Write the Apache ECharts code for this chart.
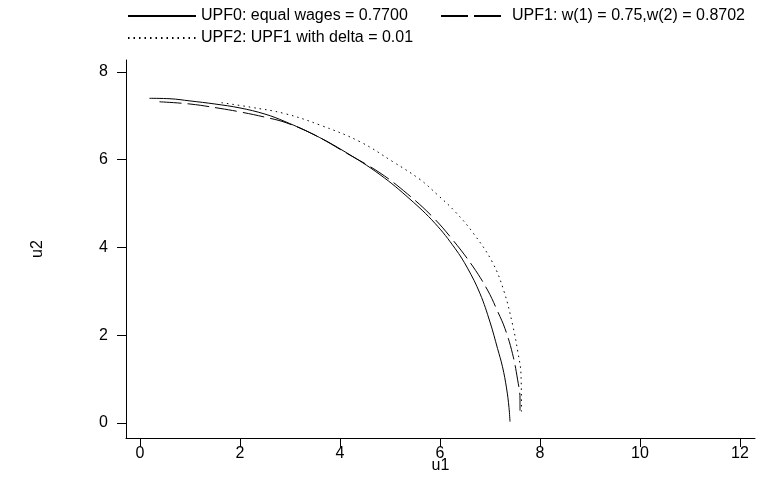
<!DOCTYPE html>
<html>
<head>
<meta charset="utf-8">
<script src="https://cdn.jsdelivr.net/npm/echarts@6/dist/echarts.min.js"></script>
<style>html,body{margin:0;padding:0;background:#fff}#c{width:764px;height:477px}</style>
</head>
<body>
<div id="c"></div>
<script>
var seriesNames = ['UPF0: equal wages = 0.7700', 'UPF1: w(1) = 0.75,w(2) = 0.8702', 'UPF2: UPF1 with delta = 0.01'];
var upf0X = [0.19, 0.6, 1.0, 1.5, 2.0, 2.5, 2.9, 3.5, 4.1, 4.8, 5.4, 5.9, 6.3, 6.55, 6.8, 7.0, 7.15, 7.25, 7.33, 7.38, 7.40];
var upf0Y = [7.40, 7.39, 7.34, 7.27, 7.18, 7.04, 6.87, 6.56, 6.18, 5.66, 5.10, 4.55, 3.98, 3.53, 2.95, 2.30, 1.70, 1.28, 0.80, 0.35, 0.03];
var upf1X = [0.39, 1.0, 1.6, 2.0, 2.5, 2.93, 3.5, 4.1, 4.8, 5.35, 5.85, 6.25, 6.65, 6.95, 7.15, 7.3, 7.45, 7.55, 7.6, 7.6];
var upf1Y = [7.32, 7.27, 7.17, 7.09, 6.97, 6.84, 6.56, 6.17, 5.70, 5.22, 4.70, 4.18, 3.58, 3.03, 2.55, 2.15, 1.58, 1.00, 0.55, 0.28];
var upf2X = [1.63, 2.2, 2.9, 3.6, 4.4, 5.05, 5.6, 5.95, 6.3, 6.67, 7.05, 7.28, 7.45, 7.56, 7.62, 7.63];
var upf2Y = [7.30, 7.20, 7.05, 6.79, 6.41, 5.96, 5.55, 5.20, 4.82, 4.32, 3.66, 3.00, 2.25, 1.60, 1.10, 0.26];
var xTicks = [0, 2, 4, 6, 8, 10, 12];
var yTicks = [0, 2, 4, 6, 8];

function zip(xs, ys) { return xs.map(function (x, i) { return [x, ys[i]]; }); }

var FONT = '"Liberation Sans", Arial, Helvetica, sans-serif';
var chart = echarts.init(document.getElementById('c'));
var legendBase = {
  orient: 'horizontal', itemHeight: 14, padding: 0,
  textStyle: { fontFamily: FONT, fontSize: 16, color: '#000' },
  itemStyle: { opacity: 0 },
  selectedMode: false
};
chart.setOption({
  animation: false,
  backgroundColor: '#fff',
  textStyle: { fontFamily: FONT },
  legend: [
    Object.assign({}, legendBase, { left: 127, top: 8, itemWidth: 68, data: [seriesNames[0]] }),
    Object.assign({}, legendBase, { left: 440, top: 8, itemWidth: 60, data: [seriesNames[1]],
      lineStyle: { type: [27, 6] },
      textStyle: { fontFamily: FONT, fontSize: 16, color: '#000', padding: [0, 0, 0, 6] } }),
    Object.assign({}, legendBase, { left: 127, top: 30, itemWidth: 68, data: [seriesNames[2]] })
  ],
  grid: { left: 126, right: 9, top: 60, bottom: 39, containLabel: false, outerBoundsMode: 'none' },
  xAxis: {
    type: 'value', min: -0.28, max: 12.3,
    name: 'u1', nameLocation: 'middle', nameGap: 20, nameMoveOverlap: false,
    nameTextStyle: { fontFamily: FONT, fontSize: 16, color: '#000' },
    axisLine: { show: true, onZero: false, lineStyle: { color: '#000', width: 1 } },
    axisTick: { show: true, length: 9, customValues: xTicks, lineStyle: { color: '#000' } },
    axisLabel: { customValues: xTicks, fontFamily: FONT, fontSize: 16, color: '#000', margin: 8 },
    splitLine: { show: false }
  },
  yAxis: {
    type: 'value', min: -0.342, max: 8.273,
    name: 'u2', nameLocation: 'middle', nameGap: 80, nameRotate: 90, nameMoveOverlap: false,
    nameTextStyle: { fontFamily: FONT, fontSize: 16, color: '#000' },
    axisLine: { show: true, onZero: false, lineStyle: { color: '#000', width: 1 } },
    axisTick: { show: true, length: 9, customValues: yTicks, lineStyle: { color: '#000' } },
    axisLabel: { customValues: yTicks, fontFamily: FONT, fontSize: 16, color: '#000', margin: 18 },
    splitLine: { show: false }
  },
  series: [
    { name: seriesNames[0], type: 'line', data: zip(upf0X, upf0Y), symbol: 'none', smooth: 0.4,
      lineStyle: { color: '#000', width: 1, type: 'solid' }, itemStyle: { color: '#000' } },
    { name: seriesNames[1], type: 'line', data: zip(upf1X, upf1Y), symbol: 'none', smooth: 0.4,
      lineStyle: { color: '#000', width: 1, type: [22, 6] }, itemStyle: { color: '#000' } },
    { name: seriesNames[2], type: 'line', data: zip(upf2X, upf2Y), symbol: 'none', smooth: 0.4,
      lineStyle: { color: '#000', width: 1, type: [1.5, 4] }, itemStyle: { color: '#000' } }
  ]
});
</script>
</body>
</html>
